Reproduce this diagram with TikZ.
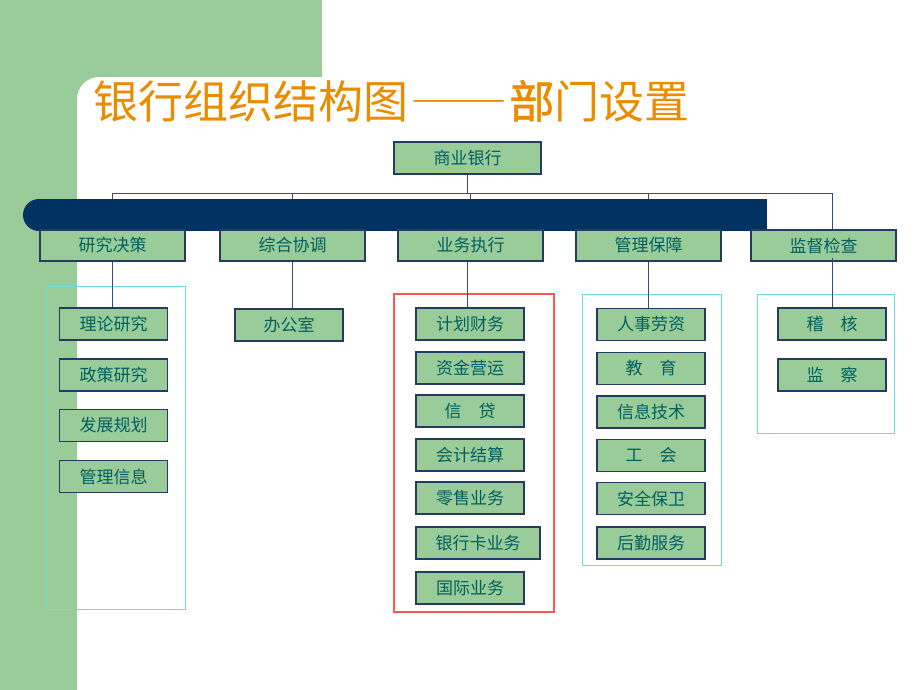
\documentclass[tikz,border=0pt]{standalone}
\usepackage{graphicx}
\usepackage{fontspec}
\newfontfamily\cjk{Noto Sans CJK SC}
\newfontfamily\cjkfw[CharacterWidth=Full]{Noto Sans CJK SC}
\newfontfamily\cjkheavy[FakeBold=1.3]{Noto Sans CJK SC}
\definecolor{bggreen}{RGB}{153,204,153}
\definecolor{boxline}{RGB}{38,58,98}
\definecolor{conncol}{RGB}{50,78,120}
\definecolor{txtcol}{RGB}{0,95,95}
\definecolor{navybar}{RGB}{0,50,100}
\definecolor{framecyan}{RGB}{110,220,220}
\definecolor{framered}{RGB}{255,85,85}
\definecolor{titleorange}{RGB}{235,140,0}
\begin{document}
\begin{tikzpicture}[x=1pt,y=-1pt,
  box/.style={draw=boxline, line width=1.2pt, fill=bggreen, text=txtcol,
    font=\cjk\fontsize{17}{17}\selectfont, inner sep=0pt,
    minimum height=32pt, minimum width=108pt},
  dept/.style={box, minimum width=145pt, minimum height=31pt},
  conn/.style={draw=conncol, line width=0.9pt},
  cframe/.style={draw=framecyan, line width=1pt},
  rframe/.style={draw=framered, line width=1.2pt}]
\useasboundingbox (0,0) rectangle (920,690);
\fill[white] (0,0) rectangle (920,690);
% green background
\fill[bggreen] (0,0) -- (322,0) -- (322,77) [rounded corners=22pt] -- (77,77) [sharp corners] -- (77,690) -- (0,690) -- cycle;
% title
\node[anchor=west, inner sep=0pt, text=titleorange, font=\cjk\fontsize{45}{45}\selectfont] (title) at (93,101) {银行组织结构图\hspace{2pt}\scalebox{1.08}[1]{\cjkfw\fontsize{45}{45}\selectfont ——}\hspace{2pt}{\cjkheavy\fontsize{45}{45}\selectfont 部}门设置};
% frames
\draw[cframe] (46.5,286.5) rectangle (185,609);
\draw[rframe] (394,294) rectangle (554,612);
\draw[cframe] (582.5,294.5) rectangle (721,565);
\draw[cframe] (757,294) rectangle (894,433);
% nodes
\node[box, minimum width=147pt] (top) at (467.5,158) {商业银行};
\coordinate (hl) at (0,193);
% sub boxes
\node[box] (s11) at (113.5,324) {理论研究};
\node[box] (s12) at (113.5,375) {政策研究};
\node[box] (s13) at (113.5,425.5) {发展规划};
\node[box] (s14) at (113.5,476.5) {管理信息};
\node[box] (s21) at (289,325) {办公室};
\node[box] (s31) at (470,324) {计划财务};
\node[box] (s32) at (470,368) {资金营运};
\node[box] (s33) at (470,411) {信　贷};
\node[box] (s34) at (470,455) {会计结算};
\node[box] (s35) at (470,498) {零售业务};
\node[box, minimum width=124pt] (s36) at (478,543) {银行卡业务};
\node[box] (s37) at (470,588) {国际业务};
\node[box] (s41) at (651,324.5) {人事劳资};
\node[box] (s42) at (651,368.5) {教　育};
\node[box] (s43) at (651,412) {信息技术};
\node[box] (s44) at (651,455.5) {工　会};
\node[box] (s45) at (651,498.5) {安全保卫};
\node[box] (s46) at (651,543) {后勤服务};
\node[box] (s51) at (832,324) {稽　核};
\node[box] (s52) at (832,375) {监　察};
% department coordinates (nodes drawn later)
\coordinate (c1) at (112.5,245.5);
\coordinate (c2) at (292.5,245.5);
\coordinate (c3) at (470.5,245.5);
\coordinate (c4) at (648.5,245.5);
\coordinate (c5) at (823.5,245.5);
% connectors (behind bar)
\draw[conn] (top.south) -- (top.south |- hl);
\draw[conn] (c1 |- hl) -- (s51.north |- hl);
\draw[conn] (c1 |- hl) -- (c1);
\draw[conn] (c2 |- hl) -- (c2);
\draw[conn] (c3 |- hl) -- (c3);
\draw[conn] (c4 |- hl) -- (c4);
\draw[conn] (s51.north |- hl) -- (s51.north |- c5);
% bar
\fill[navybar] (39,215) circle[radius=16];
\fill[navybar] (39,199) rectangle (767,231);
% departments
\node[dept] (d1) at (c1) {研究决策};
\node[dept] (d2) at (c2) {综合协调};
\node[dept] (d3) at (c3) {业务执行};
\node[dept] (d4) at (c4) {管理保障};
\node[dept] (d5) at (c5) {监督检查};
% lower connectors
\draw[conn] (d1.south) -- (d1.south |- s11.north);
\draw[conn] (d2.south) -- (d2.south |- s21.north);
\draw[conn] ([xshift=-3.5pt]d3.south) -- ([xshift=-3.5pt]d3.south |- s31.north);
\draw[conn] (d4.south) -- (d4.south |- s41.north);
\draw[conn] ([yshift=4pt]s51.north |- d5.south) -- (s51.north);
\end{tikzpicture}
\end{document}
